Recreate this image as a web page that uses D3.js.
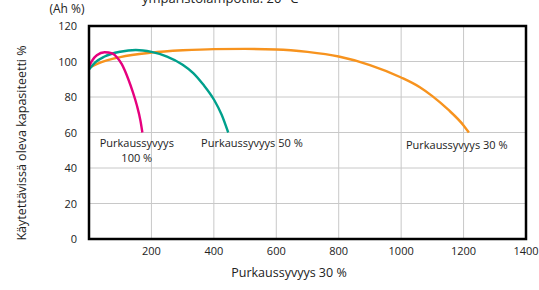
<!DOCTYPE html>
<html><head><meta charset="utf-8">
<script src="https://cdn.jsdelivr.net/npm/d3@7"></script>
<style>body{margin:0;background:#fff}svg{display:block}text{font-family:"Open Sans",sans-serif;fill:#222}</style>
</head><body><svg id="c" width="539" height="290"></svg>
<script>
const xTicks = [200, 400, 600, 800, 1000, 1200, 1400];
const yTicks = [0, 20, 40, 60, 80, 100, 120];
const dod100 = [[0,97],[10,100.5],[25,103.5],[50,105.2],[75,104.5],[90,102.3],[105,98.5],[126,90],[140,83],[153,75.5],[165,66.5],[171,60]];
const dod50 = [[0,95.5],[20,99.5],[50,102.8],[100,105.5],[150,106.5],[200,105.4],[250,102.8],[300,98.2],[334,93.5],[366,87],[401,78.3],[425,70],[446,60]];
const dod30 = [[0,96.5],[30,99],[100,102.5],[200,105],[300,106.3],[400,107],[500,107.1],[600,106.8],[700,105.4],[800,102.8],[900,98],[1000,91],[1060,85.5],[1100,80.5],[1150,73],[1200,64],[1217,60]];
const seriesNames = ["Purkaussyvyys 100 %", "Purkaussyvyys 50 %", "Purkaussyvyys 30 %"];
const colors = ["#e6007e", "#00a08c", "#f7931e"];

const svg = d3.select("#c");
const x = d3.scaleLinear().domain([0, 1400]).range([89, 526]);
const y = d3.scaleLinear().domain([0, 120]).range([239, 26]);

// grid
svg.append("g").selectAll("line").data(xTicks.filter(d => d < 1400)).join("line")
  .attr("x1", d => x(d)).attr("x2", d => x(d)).attr("y1", y(120)).attr("y2", y(0))
  .attr("stroke", "#c8c8c8").attr("stroke-width", 1);
svg.append("g").selectAll("line").data(yTicks.filter(d => d > 0 && d < 120)).join("line")
  .attr("x1", x(0)).attr("x2", x(1400)).attr("y1", d => y(d)).attr("y2", d => y(d))
  .attr("stroke", "#c8c8c8").attr("stroke-width", 1);

// curves
const line = d3.line().x(d => x(d[0])).y(d => y(d[1])).curve(d3.curveMonotoneX);
[dod30, dod50, dod100].forEach((s, i) => {
  svg.append("path").attr("d", line(s)).attr("fill", "none")
    .attr("stroke", colors[2 - i]).attr("stroke-width", 2.4).attr("stroke-linecap", "butt");
});

// frame
svg.append("rect").attr("x", x(0)).attr("y", y(120)).attr("width", x(1400) - x(0)).attr("height", y(0) - y(120))
  .attr("fill", "none").attr("stroke", "#000").attr("stroke-width", 2.5);

// tick labels
svg.append("g").selectAll("text").data(xTicks).join("text")
  .attr("x", d => x(d)).attr("y", 255).attr("text-anchor", "middle").attr("font-size", 11).text(d => d);
svg.append("g").selectAll("text").data(yTicks).join("text")
  .attr("x", 77).attr("y", d => y(d) + 4).attr("text-anchor", "end").attr("font-size", 11).text(d => d);

// series labels
const lab = svg.append("g").attr("font-size", 11);
lab.append("text").attr("x", x(153)).attr("y", 147).attr("text-anchor", "middle").text("Purkaussyvyys");
lab.append("text").attr("x", x(153)).attr("y", 162).attr("text-anchor", "middle").text("100 %");
lab.append("text").attr("x", x(522)).attr("y", 147).attr("text-anchor", "middle").text(seriesNames[1]);
lab.append("text").attr("x", x(1178)).attr("y", 149).attr("text-anchor", "middle").text(seriesNames[2]);

// titles
svg.append("text").attr("x", 67).attr("y", 13).attr("text-anchor", "middle").attr("font-size", 12).text("(Ah %)");
svg.append("text").attr("x", 142).attr("y", 3).attr("font-size", 13).text("ympäristölämpötila: 20 °C");
svg.append("text").attr("x", 289).attr("y", 277).attr("text-anchor", "middle").attr("font-size", 12.5).text("Purkaussyvyys 30 %");
svg.append("text").attr("transform", "translate(26,143) rotate(-90)").attr("text-anchor", "middle")
  .attr("font-size", 12.5).text("Käytettävissä oleva kapasiteetti %");
</script></body></html>
